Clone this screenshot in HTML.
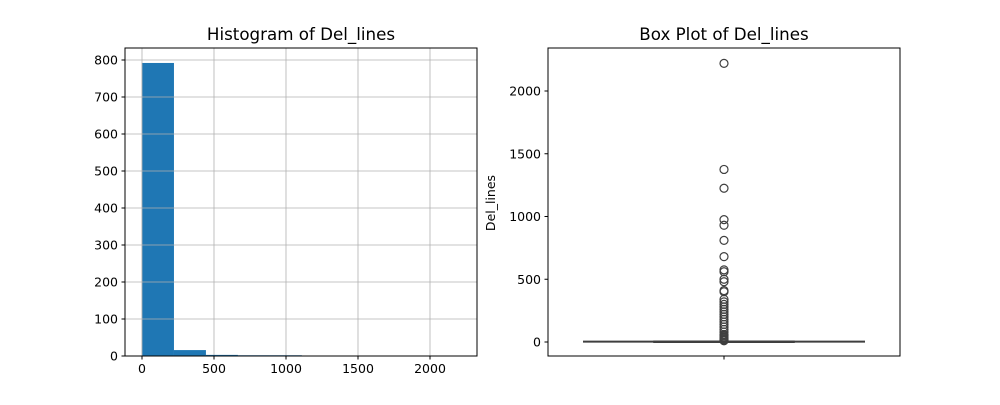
<!DOCTYPE html>
<html><head><meta charset="utf-8"><style>
body{margin:0;background:#fff;font-family:"Liberation Sans","DejaVu Sans",sans-serif}
svg text{font-family:"DejaVu Sans","Liberation Sans",sans-serif}
</style></head><body>
<svg id="c" width="1000" height="400" xmlns="http://www.w3.org/2000/svg"></svg>
<script>
const histCounts=[792,16,3,2,2,0,0,0,0,1];
const histMin=0, histMax=2220;
const histYTicks=[0,100,200,300,400,500,600,700,800];
const histXTicks=[0,500,1000,1500,2000];
const boxOutliers=[2220,1375,1225,975,930,810,680,575,560,500,480,410,400,340,320,300,280,260,240,220,200,180,160,140,120,100,80,60,50,40,30,20,15,10];
const boxStats=[0,1,3,6,14];
const boxYTicks=[0,500,1000,1500,2000];

const svg=document.getElementById('c');const NS='http://www.w3.org/2000/svg';
function mk(t,a,p){const e=document.createElementNS(NS,t);for(const k in a)e.setAttribute(k,a[k]);(p||svg).appendChild(e);return e;}
const FS=12.5;
const L={x0:125,x1:477,y0:48,y1:356};
const hx=v=>142+v*0.144, hy=v=>356-v*0.37;
const g1=mk('g',{});
histXTicks.forEach(t=>{const l=mk('line',{x1:hx(t),x2:hx(t),y1:L.y0,y2:L.y1,stroke:'#b0b0b0','stroke-width':0.8},g1);
 mk('line',{x1:hx(t),x2:hx(t),y1:356,y2:359.5,stroke:'#000'},g1);
 const tx=mk('text',{x:hx(t),y:373,'font-size':FS,'text-anchor':'middle'},g1);tx.textContent=t;});
histYTicks.forEach(t=>{const l=mk('line',{x1:L.x0,x2:L.x1,y1:hy(t),y2:hy(t),stroke:'#b0b0b0','stroke-width':0.8},g1);
 mk('line',{x1:121.5,x2:125,y1:hy(t),y2:hy(t),stroke:'#000'},g1);
 const tx=mk('text',{x:118,y:hy(t)+4.5,'font-size':FS,'text-anchor':'end'},g1);tx.textContent=t;});
const bw=(histMax-histMin)/histCounts.length;
histCounts.forEach((c,i)=>{if(c<=0)return;const r=mk('rect',{x:hx(histMin+i*bw),y:hy(c),width:hx(bw)-hx(0),height:356-hy(c),fill:'#1f77b4'},g1);});
histXTicks.forEach(t=>{if(hx(t)<hx(bw)){mk('line',{x1:hx(t),x2:hx(t),y1:hy(histCounts[0]),y2:L.y1,stroke:'#b0b0b0','stroke-width':0.8},g1);}});
histYTicks.forEach(t=>{if(t<histCounts[0])mk('line',{x1:hx(0),x2:hx(bw),y1:hy(t),y2:hy(t),stroke:'#b0b0b0','stroke-width':0.8},g1);});
const f1=mk('rect',{x:L.x0,y:L.y0,width:L.x1-L.x0,height:L.y1-L.y0,fill:'none',stroke:'#000','stroke-width':1},g1);
const t1=mk('text',{x:301,y:40,'font-size':16.7,'text-anchor':'middle'},g1);t1.textContent='Histogram of Del_lines';
const R={x0:548,x1:900,y0:48,y1:356};
const by=v=>342-v*0.1255;
const g2=mk('g',{});
boxYTicks.forEach(t=>{mk('line',{x1:544.5,x2:548,y1:by(t),y2:by(t),stroke:'#000'},g2);
 const tx=mk('text',{x:541,y:by(t)+4.5,'font-size':FS,'text-anchor':'end'},g2);tx.textContent=t;});
mk('line',{x1:724,x2:724,y1:356,y2:359.5,stroke:'#000'},g2);
const wk=mk('line',{x1:583,x2:865,y1:by(boxStats[2]),y2:by(boxStats[2]),stroke:'#3f3f3f','stroke-width':2},g2);
const bx=mk('rect',{x:654,y:by(boxStats[3]),width:140,height:Math.max(1,by(boxStats[1])-by(boxStats[3])),fill:'#1f77b4',stroke:'#3f3f3f','stroke-width':1.5},g2);
boxOutliers.forEach(v=>{const c=mk('circle',{cx:724,cy:by(v),r:4,fill:'none',stroke:'#3f3f3f','stroke-width':1.2},g2);});
const f2=mk('rect',{x:R.x0,y:R.y0,width:R.x1-R.x0,height:R.y1-R.y0,fill:'none',stroke:'#000','stroke-width':1},g2);
const t2=mk('text',{x:724,y:40,'font-size':16.7,'text-anchor':'middle'},g2);t2.textContent='Box Plot of Del_lines';
const yl=mk('text',{x:0,y:0,'font-size':FS,'text-anchor':'middle',transform:'translate(495,203) rotate(-90)'},g2);yl.textContent='Del_lines';
</script>
</body></html>
